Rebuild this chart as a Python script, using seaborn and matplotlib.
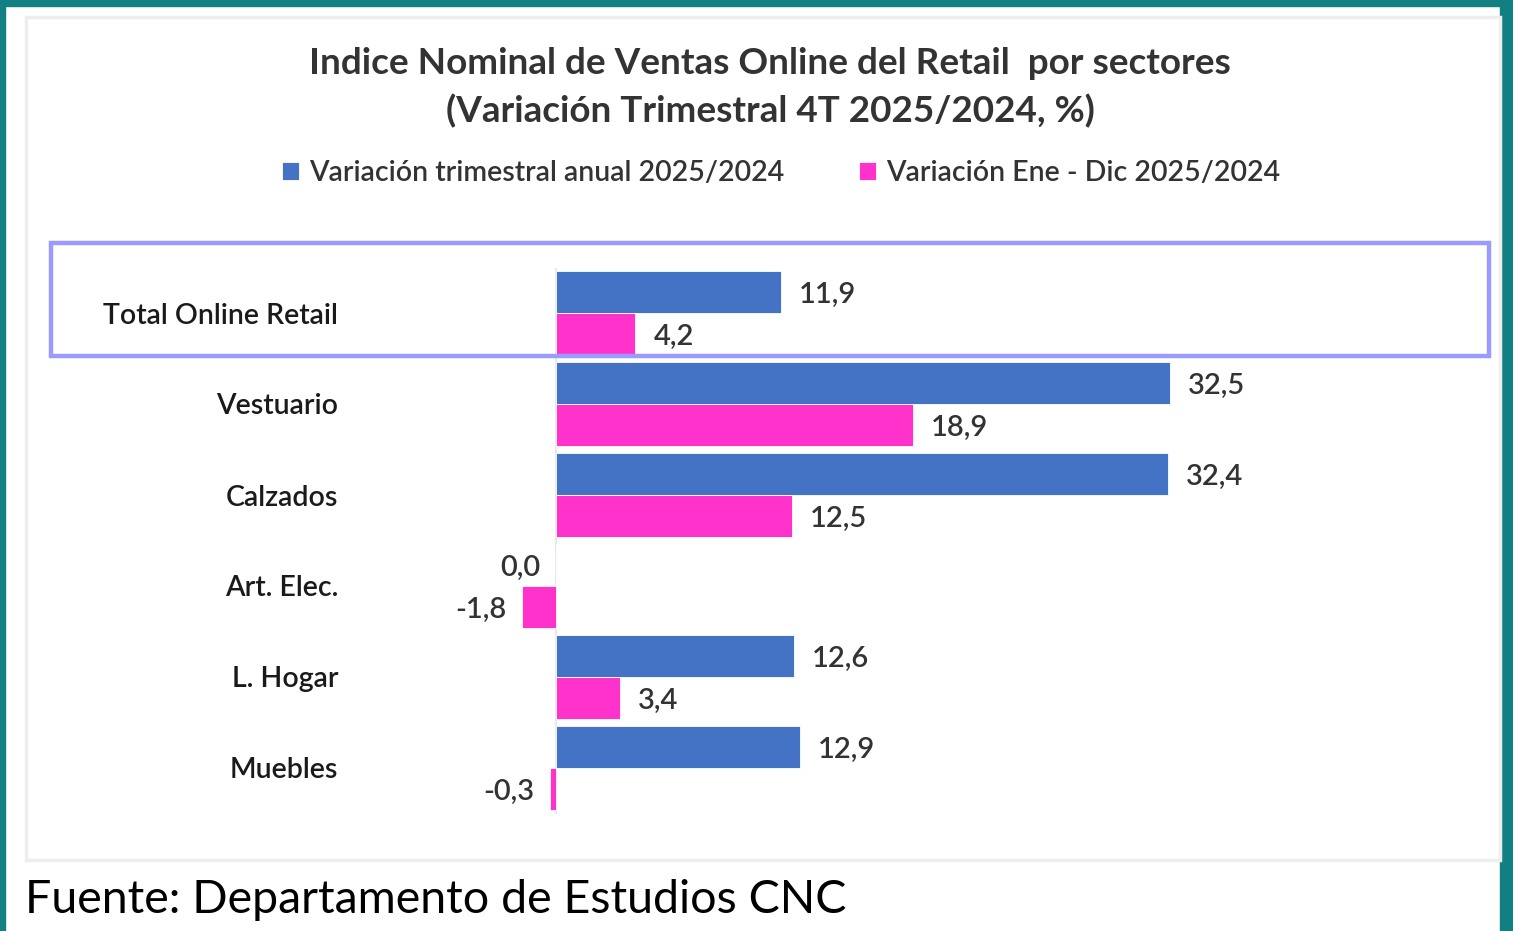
import pandas as pd
import seaborn as sns
import matplotlib.pyplot as plt
from matplotlib.patches import Rectangle

# chart values
sectores = ['Total Online Retail', 'Vestuario', 'Calzados', 'Art. Elec.', 'L. Hogar', 'Muebles']
var_trimestral = [11.9, 32.5, 32.4, 0.0, 12.6, 12.9]
var_ene_dic = [4.2, 18.9, 12.5, -1.8, 3.4, -0.3]
serie_trim = 'Variación trimestral anual 2025/2024'
serie_anual = 'Variación Ene - Dic 2025/2024'

df = pd.DataFrame({
    'sector': sectores * 2,
    'valor': var_trimestral + var_ene_dic,
    'serie': [serie_trim] * len(sectores) + [serie_anual] * len(sectores),
})

sns.set_theme(style='white')
plt.rcParams['font.family'] = ['Lato', 'DejaVu Sans']

W, H = 1513, 931
fig = plt.figure(figsize=(W / 100, H / 100), dpi=100)
fig.patch.set_facecolor('white')


def fx(px):
    return px / W


def fy(py):
    return 1 - py / H


# teal frame and inner card
teal = '#127F83'
fig.add_artist(Rectangle((0, 0), fx(5), 1, transform=fig.transFigure, color=teal, zorder=0))
fig.add_artist(Rectangle((fx(1500), 0), fx(13), 1, transform=fig.transFigure, color=teal, zorder=0))
fig.add_artist(Rectangle((0, fy(6)), 1, fy(0) - fy(6), transform=fig.transFigure, color=teal, zorder=0))
fig.add_artist(Rectangle((fx(26), fy(860)), fx(1500 - 26), fy(17) - fy(860), transform=fig.transFigure,
                         facecolor='white', edgecolor='#EEEEEE', lw=2.5, zorder=0))

# axes: zero at px 556, 18.892 px per unit
scale = 18.892
left_px, right_px = 400, 1490
top_px, bot_px = 267.5, 813.5
ax = fig.add_axes([fx(left_px), fy(bot_px), fx(right_px - left_px), fy(top_px) - fy(bot_px)])
ax.set_facecolor('none')

sns.barplot(data=df, y='sector', x='valor', hue='serie', orient='h', ax=ax,
            palette=['#4472C4', '#FF33CC'], width=0.92, saturation=1,
            edgecolor='white', linewidth=0.6)

ax.set_xlim((left_px - 556) / scale, (right_px - 556) / scale)
ax.set_ylim(5.5, -0.5)
ax.axvline(0, color='#E4E4E4', lw=1.2, zorder=0)
sns.despine(ax=ax, left=True, bottom=True)
ax.set_xticks([])
ax.set_xlabel('')
ax.set_ylabel('')
ax.tick_params(axis='y', length=0, pad=44.5, labelsize=20.5, labelcolor='#1a1a1a')
for t in ax.get_yticklabels():
    t.set_fontweight('semibold')

# value labels
for i, (a, b) in enumerate(zip(var_trimestral, var_ene_dic)):
    for v, off in ((a, -0.23), (b, 0.23)):
        txt = f'{v:.1f}'.replace('.', ',')
        if v > 0:
            ax.annotate(txt, (v, i + off), xytext=(13, -2), textcoords='offset points',
                        ha='left', va='center', fontsize=21, fontweight='semibold', color='#333333')
        else:
            ax.annotate(txt, (v, i + off), xytext=(-11.5, -2), textcoords='offset points',
                        ha='right', va='center', fontsize=21, fontweight='semibold', color='#333333')

# highlight box around total
fig.add_artist(Rectangle((fx(51), fy(356)), fx(1489 - 51), fy(243) - fy(356), transform=fig.transFigure,
                         fill=False, edgecolor='#9B9BFF', lw=3.2, zorder=5))

# title
fig.text(fx(770), fy(63), 'Indice Nominal de Ventas Online del Retail  por sectores',
         ha='center', va='center', fontsize=26.6, fontweight='bold', color='#333333')
fig.text(fx(770), fy(111), '(Variación Trimestral 4T 2025/2024, %)',
         ha='center', va='center', fontsize=26.6, fontweight='bold', color='#333333')

# legend
sns.move_legend(ax, 'center', bbox_to_anchor=(fx(781), fy(173)), bbox_transform=fig.transFigure,
                ncol=2, frameon=False, title=None, fontsize=20.5, handlelength=0.6, handleheight=0.6,
                handletextpad=0.35, columnspacing=2.6)
for t in ax.get_legend().get_texts():
    t.set_color('#333333')
    t.set_fontweight('semibold')

# source
fig.text(fx(25), fy(900), 'Fuente: Departamento de Estudios CNC', ha='left', va='center',
         fontsize=33.5, color='black')

fig.savefig('out.png', dpi=100)
